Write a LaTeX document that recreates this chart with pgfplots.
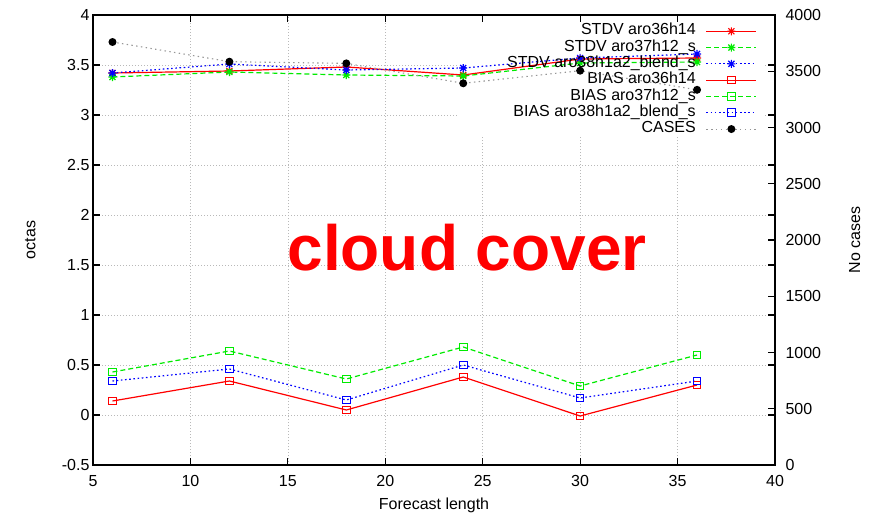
\documentclass[border=0pt]{standalone}
\usepackage{fontspec}
\setmainfont{Liberation Sans}
\usepackage{pgfplots}
\pgfplotsset{compat=1.18}
\definecolor{gred}{RGB}{255,0,0}
\definecolor{ggreen}{RGB}{0,235,0}
\definecolor{gblue}{RGB}{0,0,255}
\definecolor{ggrey}{RGB}{150,150,150}
\pgfdeclareplotmark{gstar}{%
 \pgfpathmoveto{\pgfqpoint{-\pgfplotmarksize}{0pt}}\pgfpathlineto{\pgfqpoint{\pgfplotmarksize}{0pt}}%
 \pgfpathmoveto{\pgfqpoint{0pt}{-\pgfplotmarksize}}\pgfpathlineto{\pgfqpoint{0pt}{\pgfplotmarksize}}%
 \pgfpathmoveto{\pgfqpoint{-0.75\pgfplotmarksize}{-0.75\pgfplotmarksize}}\pgfpathlineto{\pgfqpoint{0.75\pgfplotmarksize}{0.75\pgfplotmarksize}}%
 \pgfpathmoveto{\pgfqpoint{-0.75\pgfplotmarksize}{0.75\pgfplotmarksize}}\pgfpathlineto{\pgfqpoint{0.75\pgfplotmarksize}{-0.75\pgfplotmarksize}}%
 \pgfusepathqstroke}
\tikzset{
 sA/.style={draw=gred, color=gred, line width=1.2pt, solid, mark=gstar, mark size=4pt, mark options={solid}},
 sB/.style={draw=ggreen, color=ggreen, line width=1.2pt, dash pattern=on 5pt off 3pt, mark=gstar, mark size=4pt, mark options={solid}},
 sC/.style={draw=gblue, color=gblue, line width=1.2pt, dash pattern=on 1.6pt off 2.6pt, mark=gstar, mark size=4pt, mark options={solid}},
 bA/.style={draw=gred, color=gred, line width=1.2pt, solid, mark=square, mark size=3.8pt, mark options={solid, line width=1pt}},
 bB/.style={draw=ggreen, color=ggreen, line width=1.2pt, dash pattern=on 5pt off 3pt, mark=square, mark size=3.8pt, mark options={solid, line width=1pt}},
 bC/.style={draw=gblue, color=gblue, line width=1.2pt, dash pattern=on 1.6pt off 2.6pt, mark=square, mark size=3.8pt, mark options={solid, line width=1pt}},
 cS/.style={draw=ggrey, color=ggrey, line width=1.1pt, dash pattern=on 1.4pt off 3.4pt, mark=*, mark size=3.4pt, mark options={solid, draw=black, fill=black}},
}
\pgfplotsset{
 common/.style={
  scale only axis, width=682pt, height=450pt,
  xmin=5, xmax=40,
  tick align=inside, major tick length=7pt,
  axis line style={line width=1.3pt, black},
  every tick/.style={black, line width=1.1pt},
  /pgf/number format/assume math mode=true,
  /pgf/number format/1000 sep={},
  scaled ticks=false,
  tick label style={font=\fontsize{16}{19}\selectfont},
  label style={font=\fontsize{16}{19}\selectfont},
 }
}
\begin{document}
\begin{tikzpicture}
\begin{axis}[common,
  ymin=-0.5, ymax=4,
  xtick={5,10,15,20,25,30,35,40},
  ytick={-0.5,0,0.5,1,1.5,2,2.5,3,3.5,4},
  xticklabel style={yshift=-7pt},
  grid=major,
  grid style={gray!55, line width=0.7pt, dash pattern=on 1pt off 2pt},
  xlabel={Forecast length}, ylabel={octas},
  xlabel style={at={(axis description cs:0.5,-0.089)}, anchor=center},
  ylabel style={at={(axis description cs:-0.092,0.5)}, anchor=center},
  legend cell align=right, legend plot pos=right,
  legend image code/.code={\draw[mark repeat=2,mark phase=2,#1] plot coordinates {(0pt,0pt) (25pt,0pt) (50pt,0pt)};},
  legend style={at={(0.9736,0.982)}, anchor=north east, draw=none, fill=none,
    inner sep=0pt, outer sep=0pt, row sep=0pt, column sep=10pt,
    nodes={inner sep=0pt, text height=11.8pt, text depth=4.5pt, font=\fontsize{16}{19}\selectfont}},
]
\coordinate (O) at (rel axis cs:0,0);
\fill[white] (axis cs:23.68,2.80) rectangle (axis cs:39.4,3.93);
\node[font=\fontsize{64}{70}\selectfont\bfseries, text=gred, anchor=base] at (axis cs:24.2,1.45) {cloud cover};
\addplot[sA] coordinates {(6,3.42) (12,3.44) (18,3.48) (24,3.40) (30,3.56) (36,3.57)};
\addlegendentry{STDV aro36h14}
\addplot[sB] coordinates {(6,3.38) (12,3.43) (18,3.40) (24,3.39) (30,3.52) (36,3.53)};
\addlegendentry{STDV aro37h12\_s}
\addplot[sC] coordinates {(6,3.42) (12,3.51) (18,3.45) (24,3.47) (30,3.57) (36,3.61)};
\addlegendentry{STDV aro38h1a2\_blend\_s}
\addplot[bA] coordinates {(6,0.14) (12,0.34) (18,0.05) (24,0.38) (30,-0.01) (36,0.30)};
\addlegendentry{BIAS aro36h14}
\addplot[bB] coordinates {(6,0.43) (12,0.64) (18,0.36) (24,0.68) (30,0.29) (36,0.60)};
\addlegendentry{BIAS aro37h12\_s}
\addplot[bC] coordinates {(6,0.34) (12,0.46) (18,0.15) (24,0.50) (30,0.17) (36,0.34)};
\addlegendentry{BIAS aro38h1a2\_blend\_s}
\addlegendimage{cS}
\addlegendentry{CASES}
\end{axis}
\begin{axis}[common,
  ymin=0, ymax=4000,
  axis y line*=right, axis x line=none,
  ytick={0,500,1000,1500,2000,2500,3000,3500,4000},
  yticklabel style={xshift=7pt},
  ylabel={No cases},
  ylabel style={at={(axis description cs:1.117,0.5)}, anchor=center},
]
\addplot[cS] coordinates {(6,3760) (12,3585) (18,3570) (24,3393) (30,3505) (36,3335)};
\end{axis}
\pgfresetboundingbox
\path ([shift={(-93pt,-50pt)}]O) rectangle ([shift={(777pt,465pt)}]O);
\end{tikzpicture}
\end{document}
